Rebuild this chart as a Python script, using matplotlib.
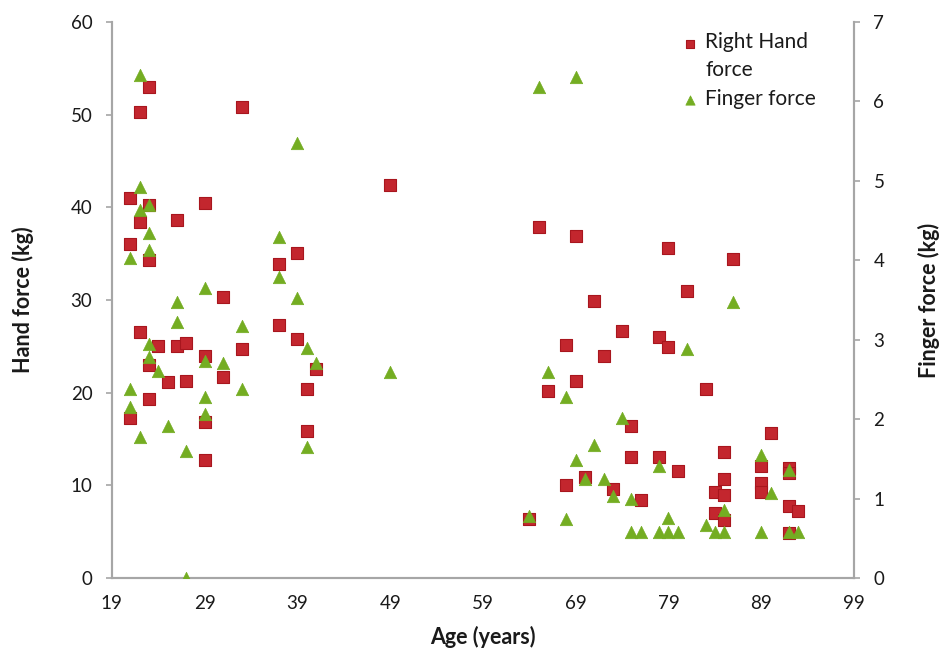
import matplotlib
matplotlib.use("Agg")
import matplotlib.pyplot as plt
from matplotlib.legend_handler import HandlerPathCollection
import numpy as np

plt.rcParams['font.family'] = ['Lato', 'DejaVu Sans']

# Right hand force (kg), left axis
hand_age = [21, 21, 21, 22, 22, 22, 23, 23, 23, 23, 23, 24, 25, 26, 26, 27, 27,
            29, 29, 29, 29, 31, 31, 33, 33, 37, 37, 39, 39, 40, 40, 41, 49,
            64, 65, 66, 68, 68, 69, 69, 70, 71, 72, 73, 74, 75, 75, 76, 78, 78,
            79, 79, 80, 81, 83, 84, 84, 85, 85, 85, 85, 86, 89, 89, 89, 90,
            92, 92, 92, 92, 93]
hand_force = [41, 36, 17.3, 50.3, 38.4, 26.5, 53, 40.2, 34.3, 23, 19.3, 25, 21.1, 38.6, 25, 21.2, 25.4,
              40.5, 24, 16.8, 12.7, 30.3, 21.7, 50.8, 24.7, 33.9, 27.3, 35.1, 25.8, 20.4, 15.9, 22.6, 42.4,
              6.4, 37.9, 20.2, 25.1, 10.0, 36.9, 21.2, 10.9, 29.9, 23.9, 9.6, 26.6, 16.4, 13.1, 8.4, 26.0, 13.1,
              35.6, 24.9, 11.5, 31.0, 20.4, 9.3, 7.0, 13.6, 10.7, 9.0, 6.3, 34.4, 12.1, 10.2, 9.3, 15.6,
              11.9, 11.3, 7.8, 4.8, 7.2]

# Finger force (kg), right axis
finger_age = [21, 21, 21, 22, 22, 22, 22, 23, 23, 23, 23, 23, 24, 25, 26, 26, 27, 27,
              29, 29, 29, 29, 31, 33, 33, 37, 37, 39, 39, 40, 40, 41, 49,
              64, 65, 66, 68, 68, 69, 69, 70, 71, 72, 73, 74, 75, 75, 76, 78, 78,
              79, 79, 80, 81, 83, 84, 85, 85, 86, 89, 89, 90, 92, 92, 93]
finger_force = [4.03, 2.38, 2.15, 6.33, 4.92, 4.63, 1.78, 4.70, 4.34, 4.13, 2.95, 2.78, 2.61, 1.91, 3.47, 3.22, 1.60, 0.0,
                3.65, 2.73, 2.28, 2.07, 2.71, 3.17, 2.38, 4.29, 3.79, 5.48, 3.52, 2.90, 1.65, 2.71, 2.59,
                0.78, 6.18, 2.59, 2.28, 0.74, 6.31, 1.49, 1.24, 1.67, 1.24, 1.03, 2.01, 1.00, 0.58, 0.58, 1.41, 0.58,
                0.76, 0.58, 0.58, 2.88, 0.67, 0.58, 0.86, 0.58, 3.47, 1.55, 0.58, 1.07, 1.36, 0.58, 0.58]

x_ticks = [19, 29, 39, 49, 59, 69, 79, 89, 99]
left_ticks = [0, 10, 20, 30, 40, 50, 60]
right_ticks = [0, 1, 2, 3, 4, 5, 6, 7]

RED = '#C3262E'
RED_EDGE = '#A8161E'
GREEN = '#74AD22'
SPINE = '#A6A6A6'
TXT = '#1a1a1a'

fig = plt.figure(figsize=(9.4, 6.56), dpi=100)
ax = fig.add_axes([0.119, 0.119, 0.7895, 0.8475])
ax2 = ax.twinx()

h1 = ax.scatter(hand_age, hand_force, marker='s', s=72, c=RED, edgecolors=RED_EDGE,
                linewidths=0.8, zorder=3, label='Right Hand\nforce')
h2 = ax2.scatter(finger_age, finger_force, marker='^', s=80, c=GREEN, edgecolors=GREEN,
                 linewidths=0.5, zorder=3, label='Finger force')

ax.set_xlim(19, 99)
ax.set_ylim(0, 60)
ax2.set_ylim(0, 7)
ax.set_xticks(x_ticks)
ax.set_yticks(left_ticks)
ax2.set_yticks(right_ticks)

for a in (ax, ax2):
    a.spines['top'].set_visible(False)
    for s in ('left', 'right', 'bottom'):
        a.spines[s].set_color(SPINE)
        a.spines[s].set_linewidth(1.5)

ax.tick_params(axis='x', length=0, labelsize=13.5, pad=12, labelcolor=TXT)
ax.tick_params(axis='y', length=4, width=1.2, color=SPINE, labelsize=13.5, pad=10,
               direction='out', labelcolor=TXT)
ax2.tick_params(axis='y', length=4, width=1.2, color=SPINE, labelsize=13.5, pad=10,
                direction='out', labelcolor=TXT)

ax.set_xlabel('Age (years)', fontsize=15.5, fontweight='bold', labelpad=10, color=TXT)
ax.set_ylabel('Hand force (kg)', fontsize=15.5, fontweight='bold', labelpad=26, color=TXT)
ax2.set_ylabel('Finger force (kg)', fontsize=15.5, fontweight='bold', labelpad=24,
               rotation=90, color=TXT)

leg = ax.legend(handles=[h1, h2], loc='upper left', bbox_to_anchor=(0.738, 1.008),
                frameon=False, fontsize=15, handletextpad=0.0, handlelength=1.5,
                borderaxespad=0.3, labelspacing=0.45, markerscale=0.75, scatterpoints=1,
                handler_map={h1: HandlerPathCollection(yoffsets=[1.35])})
for t in leg.get_texts():
    t.set_color(TXT)
    t.set_linespacing(1.5)

fig.savefig('out.png', dpi=100)
